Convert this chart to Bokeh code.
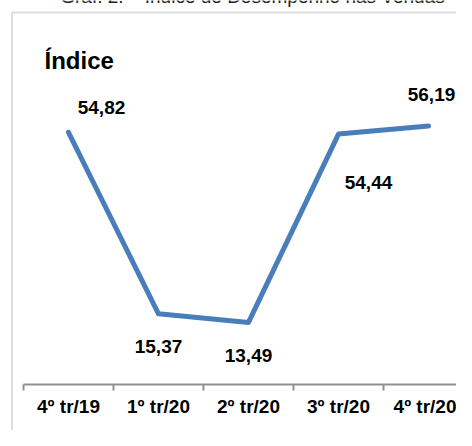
from bokeh.plotting import figure
from bokeh.models import ColumnDataSource, FixedTicker, LinearAxis, Range1d, Label, BoxAnnotation
from bokeh.embed import file_html
from bokeh.resources import INLINE
from bokeh.core.properties import value

# ---- data ----
categories = ["4º tr/19", "1º tr/20", "2º tr/20", "3º tr/20", "4º tr/20"]
indice = [54.82, 15.37, 13.49, 54.44, 56.19]
title_text = "Graf. 2. – Índice de Desempenho nas Vendas"
axis_title = "Índice"

# ---- layout / style ----
W, H = 456, 430
X0_PX, X_STEP = 68, 90          # pixel of first category, px per category
Y0_PX, Y_K = 384, 4.6           # pixel of value 0, px per unit
lab_dx = [33, 0, 0, 30, 3]      # data label offsets (px)
lab_dy = [-25, 33, 33, 48, -32]
FONT = "Liberation Sans"
LINE_COLOR = "#4a7ebb"
GRAY = "#8f8f8f"

def dx(px):
    return (px - X0_PX) / X_STEP

def dy(px):
    return (Y0_PX - px) / Y_K

xs = list(range(len(categories)))
src = ColumnDataSource(dict(
    x=xs, y=indice,
    txt=[f"{v:.2f}".replace(".", ",") for v in indice],
    dx=lab_dx, dy=lab_dy,
))

x_range = Range1d(dx(0), dx(W))
y_range = Range1d(dy(H), dy(0))
p = figure(width=W, height=H, output_backend="svg", toolbar_location=None,
           x_range=x_range, y_range=y_range,
           x_axis_type=None, y_axis_type=None, min_border=0,
           background_fill_color="white", border_fill_color="white")
p.outline_line_color = None

# outer chart border (only top-left corner visible)
p.add_layout(BoxAnnotation(left=dx(11.5), top=dy(12), right=dx(W + 60), bottom=dy(H + 60),
                           fill_alpha=0, fill_color=None, line_color=GRAY, line_width=2))

# category axis at y = 0: labels at centres, tick marks at boundaries
ax = LinearAxis(ticker=FixedTicker(ticks=xs, minor_ticks=[i - 0.5 for i in xs]),
                fixed_location=0, bounds=(-0.5, dx(W)))
ax.major_label_overrides = {i: c for i, c in enumerate(categories)}
ax.axis_line_color = GRAY
ax.axis_line_width = 2
ax.major_tick_line_color = None
ax.major_tick_in = 0
ax.major_tick_out = 0
ax.minor_tick_line_color = GRAY
ax.minor_tick_line_width = 2
ax.minor_tick_in = 0
ax.minor_tick_out = 6
ax.major_label_standoff = 5
ax.major_label_text_font = FONT
ax.major_label_text_font_size = "19px"
ax.major_label_text_font_style = "bold"
ax.major_label_text_color = "black"
p.add_layout(ax, "below")

p.line("x", "y", source=src, line_color=LINE_COLOR, line_width=5,
       line_cap="round", line_join="round")

p.text("x", "y", text="txt", source=src, x_offset="dx", y_offset="dy",
       text_font=value(FONT), text_font_size="19px", text_font_style="bold",
       text_align="center", text_baseline="middle", text_color="black")

p.add_layout(Label(x=dx(44), y=dy(60), text=axis_title,
                   text_font=FONT, text_font_size="24px", text_font_style="bold",
                   text_baseline="alphabetic", text_color="black"))

# chart title, mostly above the visible area (as in the source image)
p.add_layout(Label(x=dx(252), y=dy(-4), text=title_text, text_align="center",
                   text_font=FONT, text_font_size="19px", text_baseline="alphabetic",
                   text_color="#222222"))

open("out.html", "w").write(file_html(p, INLINE))
